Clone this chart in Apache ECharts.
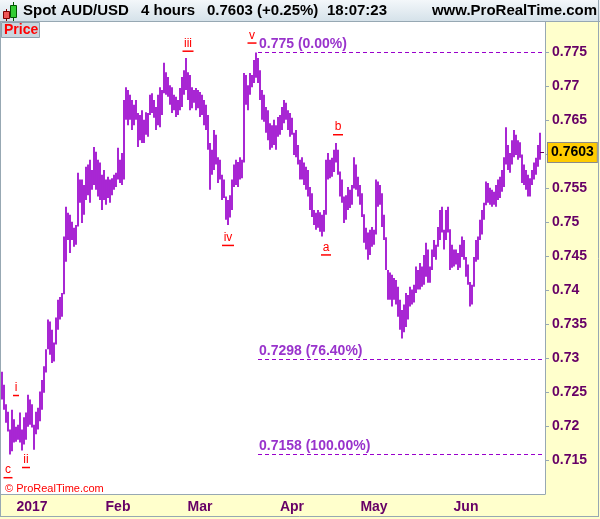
<!DOCTYPE html>
<html><head><meta charset="utf-8">
<script src="https://cdn.jsdelivr.net/npm/echarts@6/dist/echarts.min.js"></script>
<style>html,body{margin:0;padding:0;background:#fff}#c{width:600px;height:519px}</style>
</head><body><div id="c"></div>
<script>
// ---- data (half-day bars) ----
const barHigh = [
0.7280,0.7261,0.7232,0.7221,0.7195,0.7224,0.7210,0.7199,0.7202,0.7220,
0.7195,0.7213,0.7220,0.7246,0.7239,0.7232,0.7202,0.7221,0.7227,0.7251,
0.7268,0.7288,0.7313,0.7357,0.7354,0.7342,0.7323,0.7360,0.7386,0.7390,
0.7396,0.7479,0.7523,0.7514,0.7511,0.7501,0.7492,0.7496,0.7573,0.7563,
0.7563,0.7555,0.7582,0.7585,0.7592,0.7577,0.7611,0.7604,0.7592,0.7588,
0.7570,0.7577,0.7563,0.7567,0.7563,0.7565,0.7570,0.7573,0.7610,0.7592,
0.7602,0.7680,0.7699,0.7695,0.7688,0.7680,0.7673,0.7680,0.7661,0.7658,
0.7665,0.7651,0.7662,0.7661,0.7688,0.7690,0.7680,0.7670,0.7688,0.7699,
0.7695,0.7735,0.7721,0.7714,0.7702,0.7699,0.7688,0.7685,0.7680,0.7698,
0.7714,0.7724,0.7742,0.7721,0.7717,0.7699,0.7695,0.7698,0.7695,0.7692,
0.7688,0.7680,0.7673,0.7658,0.7617,0.7607,0.7636,0.7629,0.7596,0.7592,
0.7570,0.7563,0.7538,0.7533,0.7540,0.7563,0.7585,0.7592,0.7589,0.7596,
0.7592,0.7720,0.7717,0.7702,0.7720,0.7717,0.7739,0.7750,0.7742,0.7724,
0.7695,0.7688,0.7670,0.7665,0.7646,0.7643,0.7651,0.7643,0.7655,0.7658,
0.7670,0.7680,0.7676,0.7665,0.7661,0.7654,0.7632,0.7636,0.7614,0.7592,
0.7596,0.7588,0.7582,0.7577,0.7552,0.7543,0.7518,0.7514,0.7518,0.7515,
0.7511,0.7518,0.7592,0.7602,0.7592,0.7595,0.7607,0.7617,0.7607,0.7575,
0.7563,0.7538,0.7540,0.7552,0.7548,0.7555,0.7596,0.7585,0.7567,0.7555,
0.7543,0.7512,0.7492,0.7485,0.7489,0.7493,0.7489,0.7563,0.7560,0.7555,
0.7543,0.7511,0.7478,0.7430,0.7426,0.7423,0.7418,0.7415,0.7405,0.7386,
0.7371,0.7379,0.7396,0.7393,0.7405,0.7401,0.7408,0.7435,0.7430,0.7440,
0.7435,0.7452,0.7470,0.7460,0.7435,0.7460,0.7474,0.7467,0.7493,0.7518,
0.7523,0.7489,0.7518,0.7523,0.7490,0.7467,0.7460,0.7460,0.7455,0.7467,
0.7479,0.7474,0.7449,0.7438,0.7412,0.7408,0.7449,0.7474,0.7479,0.7504,
0.7518,0.7529,0.7560,0.7558,0.7551,0.7548,0.7545,0.7555,0.7563,0.7567,
0.7577,0.7596,0.7640,0.7614,0.7602,0.7621,0.7636,0.7629,0.7621,0.7618,
0.7600,0.7585,0.7577,0.7570,0.7565,0.7577,0.7588,0.7595,0.7614,0.7632
];
const barLow = [
0.7239,0.7224,0.7205,0.7192,0.7158,0.7163,0.7176,0.7177,0.7180,0.7176,
0.7164,0.7173,0.7180,0.7199,0.7202,0.7198,0.7165,0.7188,0.7195,0.7207,
0.7224,0.7249,0.7279,0.7313,0.7305,0.7293,0.7295,0.7320,0.7342,0.7357,
0.7361,0.7394,0.7442,0.7474,0.7455,0.7474,0.7464,0.7467,0.7494,0.7529,
0.7499,0.7511,0.7533,0.7540,0.7529,0.7548,0.7555,0.7548,0.7538,0.7533,
0.7518,0.7533,0.7526,0.7536,0.7529,0.7540,0.7548,0.7552,0.7563,0.7558,
0.7555,0.7563,0.7651,0.7643,0.7651,0.7636,0.7643,0.7651,0.7611,0.7621,
0.7617,0.7617,0.7629,0.7626,0.7658,0.7661,0.7654,0.7636,0.7643,0.7640,
0.7658,0.7690,0.7688,0.7685,0.7673,0.7661,0.7665,0.7655,0.7658,0.7665,
0.7670,0.7688,0.7695,0.7680,0.7665,0.7668,0.7676,0.7665,0.7668,0.7655,
0.7658,0.7643,0.7636,0.7607,0.7548,0.7570,0.7577,0.7585,0.7558,0.7563,
0.7533,0.7536,0.7504,0.7496,0.7507,0.7518,0.7552,0.7555,0.7552,0.7563,
0.7565,0.7588,0.7673,0.7665,0.7688,0.7699,0.7705,0.7713,0.7705,0.7680,
0.7651,0.7648,0.7632,0.7621,0.7607,0.7610,0.7614,0.7607,0.7626,0.7629,
0.7636,0.7646,0.7651,0.7636,0.7626,0.7629,0.7599,0.7596,0.7585,0.7563,
0.7563,0.7555,0.7548,0.7538,0.7518,0.7508,0.7496,0.7489,0.7492,0.7486,
0.7479,0.7486,0.7511,0.7563,0.7565,0.7567,0.7574,0.7588,0.7570,0.7538,
0.7529,0.7499,0.7504,0.7518,0.7521,0.7526,0.7550,0.7548,0.7538,0.7526,
0.7508,0.7470,0.7460,0.7445,0.7452,0.7464,0.7467,0.7482,0.7523,0.7526,
0.7493,0.7474,0.7430,0.7386,0.7386,0.7376,0.7386,0.7379,0.7361,0.7342,
0.7329,0.7338,0.7346,0.7357,0.7376,0.7379,0.7382,0.7396,0.7401,0.7401,
0.7405,0.7408,0.7420,0.7411,0.7411,0.7430,0.7449,0.7445,0.7464,0.7474,
0.7485,0.7460,0.7474,0.7485,0.7430,0.7433,0.7435,0.7438,0.7430,0.7433,
0.7449,0.7445,0.7420,0.7408,0.7376,0.7379,0.7405,0.7442,0.7445,0.7474,
0.7482,0.7504,0.7525,0.7529,0.7526,0.7523,0.7526,0.7523,0.7533,0.7536,
0.7545,0.7552,0.7585,0.7577,0.7573,0.7585,0.7596,0.7599,0.7592,0.7595,
0.7558,0.7555,0.7548,0.7538,0.7538,0.7555,0.7563,0.7570,0.7582,0.7592
];
const slotCount = 272;
const monthLabels = ['2017','Feb','Mar','Apr','May','Jun'];
const monthBars = [15, 58, 99, 145, 186, 232];
const fibLevels = [0.775, 0.7298, 0.7158];
const fibLabels = ['0.775 (0.00%)', '0.7298 (76.40%)', '0.7158 (100.00%)'];
const fibStartBar = 128;
const waveNames = ['c','i','ii','iii','iv','v','a','b'];
const waveBars = [3, 7, 12, 93, 113, 125, 162, 168];
const wavePrices = [0.7124, 0.7245, 0.7139, 0.7752, 0.7466, 0.7764, 0.7452, 0.7629];
const lastPrice = 0.7603;
const yMin = 0.71, yMax = 0.7795, yStep = 0.005;

// ---- build ----
const FONT = '"Liberation Sans", Arial, sans-serif';
const categories = Array.from({length: slotCount}, (_, i) => String(i));
const barData = barHigh.map((h, i) => [i, barLow[i], h]);
const mctx = document.createElement('canvas').getContext('2d');
mctx.font = '12px ' + FONT;

const chart = echarts.init(document.getElementById('c'), null, {renderer: 'canvas'});
const purple = '#9900cc';
const axisGrey = '#97a8b3';

chart.setOption({
  animation: false,
  backgroundColor: '#ffffcc',
  textStyle: {fontFamily: FONT},
  grid: {left: 1, top: 22, width: 544, height: 472, show: true, backgroundColor: '#ffffff', borderWidth: 0},
  xAxis: {
    type: 'category', data: categories, boundaryGap: true,
    axisLine: {lineStyle: {color: axisGrey, width: 1}},
    axisTick: {alignWithLabel: true, length: 5, lineStyle: {color: axisGrey},
      interval: (i) => monthBars.indexOf(i) >= 0},
    axisLabel: {interval: (i) => monthBars.indexOf(i) >= 0,
      formatter: (v, i) => { const j = monthBars.indexOf(+v); return j >= 0 ? monthLabels[j] : ''; },
      color: '#660066', fontWeight: 'bold', fontSize: 14, margin: 6, fontFamily: FONT},
    splitLine: {show: false}
  },
  yAxis: {
    type: 'value', position: 'right', min: yMin, max: yMax, interval: yStep,
    axisLine: {show: true, lineStyle: {color: axisGrey}},
    axisTick: {show: true, length: 4, lineStyle: {color: axisGrey}},
    axisLabel: {color: '#660066', fontWeight: 'bold', fontSize: 14, margin: 7, fontFamily: FONT,
      showMinLabel: false, showMaxLabel: false,
      formatter: (v) => Math.abs(v - 0.76) < 1e-6 ? '' : String(+v.toFixed(4))},
    splitLine: {show: false}
  },
  graphic: [
    {type: 'rect', shape: {x: 0, y: 0, width: 600, height: 22}, z: 10,
      style: {fill: new echarts.graphic.LinearGradient(0, 0, 0, 1, [{offset: 0, color: '#f3f7fa'}, {offset: 1, color: '#d4e1e9'}])}},
    {type: 'line', shape: {x1: 0, y1: 21.5, x2: 600, y2: 21.5}, style: {stroke: axisGrey, lineWidth: 1}, z: 11},
    {type: 'line', shape: {x1: 0.5, y1: 22, x2: 0.5, y2: 517}, style: {stroke: axisGrey, lineWidth: 1}, z: 11},
    {type: 'line', shape: {x1: 598.5, y1: 0, x2: 598.5, y2: 517}, style: {stroke: axisGrey, lineWidth: 1}, z: 11},
    {type: 'line', shape: {x1: 0, y1: 516.5, x2: 599, y2: 516.5}, style: {stroke: axisGrey, lineWidth: 1}, z: 11},
    // icon
    {type: 'line', shape: {x1: 6.5, y1: 9, x2: 6.5, y2: 21}, style: {stroke: '#7a0000', lineWidth: 1}, z: 12},
    {type: 'rect', shape: {x: 3.5, y: 11.5, width: 6, height: 7}, style: {fill: '#ee5555', stroke: '#7a0000', lineWidth: 1}, z: 12},
    {type: 'line', shape: {x1: 13.5, y1: 2, x2: 13.5, y2: 21}, style: {stroke: '#005500', lineWidth: 1}, z: 12},
    {type: 'rect', shape: {x: 10.5, y: 5.5, width: 6, height: 12}, style: {fill: '#33cc33', stroke: '#005500', lineWidth: 1}, z: 12},
    // title texts
    {type: 'text', x: 23, y: 11, z: 12, style: {text: 'Spot AUD/USD', font: 'bold 15px ' + FONT, fill: '#000', verticalAlign: 'middle'}},
    {type: 'text', x: 141, y: 11, z: 12, style: {text: '4 hours', font: 'bold 15px ' + FONT, fill: '#000', verticalAlign: 'middle'}},
    {type: 'text', x: 207, y: 11, z: 12, style: {text: '0.7603 (+0.25%)', font: 'bold 15px ' + FONT, fill: '#000', verticalAlign: 'middle'}},
    {type: 'text', x: 327, y: 11, z: 12, style: {text: '18:07:23', font: 'bold 15px ' + FONT, fill: '#000', verticalAlign: 'middle'}},
    {type: 'text', x: 597, y: 11, z: 12, style: {text: 'www.ProRealTime.com', font: 'bold 15px ' + FONT, fill: '#000', verticalAlign: 'middle', align: 'right'}},
    // Price tag
    {type: 'rect', shape: {x: 1.5, y: 22.5, width: 38, height: 15}, z: 12, style: {fill: '#c9d6de', stroke: '#8ea1ad', lineWidth: 1}},
    {type: 'text', x: 4, y: 30.5, z: 13, style: {text: 'Price', font: 'bold 14px ' + FONT, fill: '#ff0000', verticalAlign: 'middle'}},
    // copyright
    {type: 'text', x: 5, y: 489, z: 12, style: {text: '\u00a9 ProRealTime.com', font: '11px ' + FONT, fill: '#ff0000', verticalAlign: 'middle'}}
  ],
  series: [{
    type: 'custom',
    data: barData,
    encode: {x: 0, y: [1, 2]},
    renderItem: (params, api) => {
      const pLo = api.coord([api.value(0), api.value(1)]);
      const pHi = api.coord([api.value(0), api.value(2)]);
      const w = api.size([1, 0])[0] * 0.85;
      return {type: 'rect', shape: {x: pLo[0] - w / 2, y: pHi[1], width: w, height: Math.max(1, pLo[1] - pHi[1])},
        style: {fill: purple}};
    },
    markLine: {
      silent: true, symbol: ['none', 'none'], animation: false,
      data: fibLevels.map((lv, i) => [
        {coord: [String(fibStartBar), lv],
         lineStyle: {color: purple, type: [4, 3], width: 1},
         label: {show: true, position: 'insideStartTop', distance: 1, formatter: fibLabels[i],
           color: '#9933cc', fontWeight: 'bold', fontSize: 14, fontFamily: FONT}},
        {coord: [String(slotCount - 1), lv]}
      ]).concat([[
        {coord: [String(barHigh.length - 1), lastPrice],
         lineStyle: {color: '#660066', type: 'solid', width: 1},
         label: {show: true, position: 'end', distance: 4, formatter: lastPrice.toFixed(4),
           color: '#000', fontWeight: 'bold', fontSize: 14, fontFamily: FONT,
           backgroundColor: '#ffcc00', borderColor: '#8a8a8a', borderWidth: 1, padding: [3, 3, 2, 3]}},
        {coord: [String(slotCount - 1), lastPrice]}
      ]])
    },
    markPoint: {
      silent: true, animation: false,
      data: waveNames.map((n, i) => ({
        coord: [String(waveBars[i]), wavePrices[i]],
        symbol: 'rect', symbolSize: [Math.round(mctx.measureText(n).width) + 3, 1.5],
        itemStyle: {color: '#ff0000'},
        label: {show: true, position: 'top', distance: 1, formatter: n, color: '#ff0000', fontSize: 12, fontFamily: FONT}
      }))
    }
  }]
});
</script></body></html>
